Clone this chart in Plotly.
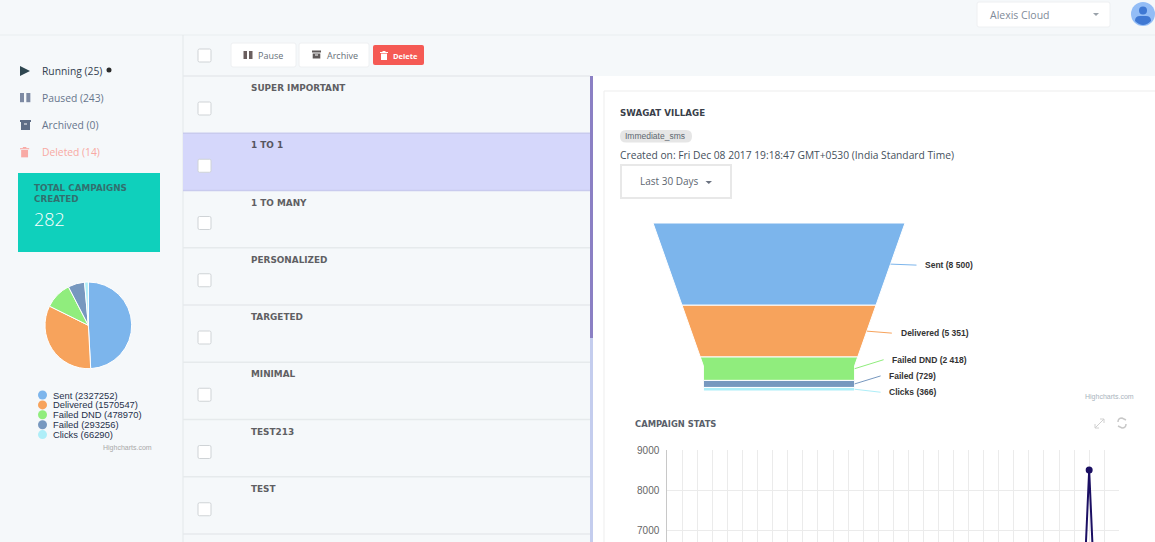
import plotly.graph_objects as go

W, H = 1155, 542

BODY = "Open Sans"
HEAD = "DejaVu Sans"
CHART = "Liberation Sans"

# data
series_names = ["Sent", "Delivered", "Failed DND", "Failed", "Clicks"]
series_colors = ["#7cb5ec", "#f7a35c", "#90ed7d", "#7798bf", "#aeeef8"]
pie_totals = [2327252, 1570547, 478970, 293256, 66290]
funnel_values = [8500, 5351, 2418, 729, 366]
daily_days = list(range(31))
daily_sent = [0, 0, 0, 0, 0, 0, 0, 0, 0, 0, 0, 0, 0, 0, 0, 0,
              0, 0, 0, 0, 0, 0, 0, 0, 0, 0, 0, 0, 8500, 0, 0]
y_ticks = [7000, 8000, 9000]
nav_items = ["Running (25)", "Paused (243)", "Archived (0)", "Deleted (14)"]
campaigns = ["SUPER IMPORTANT", "1 TO 1", "1 TO MANY", "PERSONALIZED",
             "TARGETED", "MINIMAL", "TEST213", "TEST"]

shapes = []
annotations = []


def px_x(p):
    return p / W


def px_y(p):
    return 1 - p / H


def rect(x0, y0, x1, y1, fill, line=None, lw=1):
    shapes.append(dict(type="rect", xref="x", yref="y", x0=x0, y0=y0, x1=x1, y1=y1,
                       fillcolor=fill, layer="below",
                       line=dict(color=line or fill, width=lw if line else 0)))


def circle(cx, cy, r, fill):
    shapes.append(dict(type="circle", xref="x", yref="y", x0=cx - r, y0=cy - r,
                       x1=cx + r, y1=cy + r, fillcolor=fill, layer="below",
                       line=dict(width=0)))


def path(d, fill=None, line=None, lw=1):
    shapes.append(dict(type="path", xref="x", yref="y", path=d, layer="below",
                       fillcolor=fill or "rgba(0,0,0,0)",
                       line=dict(color=line or "rgba(0,0,0,0)", width=lw)))


def rounded(x0, y0, x1, y1, r, fill, line=None, lw=1):
    d = (f"M{x0 + r},{y0} L{x1 - r},{y0} Q{x1},{y0} {x1},{y0 + r} L{x1},{y1 - r} "
         f"Q{x1},{y1} {x1 - r},{y1} L{x0 + r},{y1} Q{x0},{y1} {x0},{y1 - r} "
         f"L{x0},{y0 + r} Q{x0},{y0} {x0 + r},{y0} Z")
    path(d, fill, line, lw)


def label(x, y, text, size, color, family=BODY, weight=None):
    font = dict(size=size, color=color, family=family)
    if weight:
        font["weight"] = weight
    annotations.append(dict(xref="x", yref="y", x=x - 0.8, y=y, text=text, showarrow=False,
                            xanchor="left", yanchor="middle", borderpad=0, font=font))


def checkbox(cx, cy):
    rounded(cx - 6.5, cy - 6.5, cx + 6.5, cy + 6.5, 1.5, "#ffffff", "#cfd3d6", 1)


def pause_icon(x, y, color, s=1.0):
    rect(x, y, x + 3.5 * s, y + 8 * s, color)
    rect(x + 5.5 * s, y, x + 9 * s, y + 8 * s, color)


def archive_icon(x, y, w, color):
    rect(x, y, x + w, y + 2, color)
    rect(x + 0.7, y + 3, x + w - 0.7, y + w - 1, color)
    rect(x + w / 2 - 1.5, y + 4, x + w / 2 + 1.5, y + 5, "#ffffff")


def trash_icon(x, y, color, s=1.0):
    rect(x, y + 1 * s, x + 8 * s, y + 2 * s, color)
    rect(x + 2.5 * s, y, x + 5.5 * s, y + 1 * s, color)
    rect(x + 1 * s, y + 2.6 * s, x + 7 * s, y + 9 * s, color)


# page background and panels
rect(0, 0, W, H, "#f5f8fa")
rect(0, 34.5, W, 35.5, "#e9edf0")
rect(593, 76, W, H, "#ffffff")
rect(182.5, 35, 183.5, H, "#e4e8ea")
rect(604, 91, W + 5, H + 5, "#ffffff", "#ededed", 1)

# top bar
rounded(977, 2, 1110, 27, 2, "#ffffff", "#eef0f2", 1)
label(990, 14.5, "Alexis Cloud", 10.5, "#7f8b99")
path("M1093,13 L1099,13 L1096,16 Z", "#9aa2aa")
circle(1143, 14, 12, "#93bdf6")
circle(1143, 10.5, 4, "#3f78d3")
path("M1135,21 Q1135,16 1140,16 L1146,16 Q1151,16 1151,21 Q1147,25 1143,25 Q1139,25 1135,21 Z", "#3f78d3")

# sidebar
path("M20,66 L30,71 L20,76 Z", "#2e4650")
pause_icon(20, 93, "#7d8aa3", 1.15)
rect(20, 120, 31, 122, "#5e6d86")
rect(21, 122, 30, 130, "#5e6d86")
rect(24, 123.5, 27, 124.5, "#ffffff")
trash_icon(20, 147, "#f8aaa5", 1.15)
nav_colors = ["#33414f", "#66758c", "#66758c", "#f8a9a3"]
for i, (item, col) in enumerate(zip(nav_items, nav_colors)):
    label(41.5, 71 + 27 * i, item, 10.3, col)
circle(109, 70, 2.5, "#2b2b2b")

rect(18, 173, 160, 252, "#0fd0bc")
label(34, 188, "<b>TOTAL CAMPAIGNS</b>", 8.8, "#31706f", HEAD)
label(34, 199, "<b>CREATED</b>", 8.8, "#31706f", HEAD)
label(34, 219, "282", 18, "#ffffff", BODY, 300)

# pie legend
for i, (name, value, col) in enumerate(zip(series_names, pie_totals, series_colors)):
    y = 395 + 9.9 * i
    circle(42.5, y, 4.5, col)
    label(53, y, f"{name} ({value})", 9.4, "#26304a", CHART)
label(103, 447.5, "Highcharts.com", 7, "#a9a9a9", CHART)

# toolbar
checkbox(204.5, 55.5)
rounded(231, 43, 296, 67, 2, "#ffffff", "#eef0f2", 1)
pause_icon(243.5, 51, "#6b5f5f")
label(258, 55, "Pause", 9, "#666f78")
rounded(299, 43, 369, 67, 2, "#ffffff", "#eef0f2", 1)
archive_icon(312, 50.5, 9, "#5f5a5a")
label(327, 55, "Archive", 9, "#666f78")
rounded(373, 45, 424, 65, 2, "#f55a54")
trash_icon(380, 51, "#ffffff")
label(393, 55.5, "<b>Delete</b>", 7.5, "#ffffff")

# campaign list
ROW = 57.25
rect(183, 133.5, 590, 190.75, "#d5d7fb")
for i in range(9):
    y = 76 + ROW * i
    sep = "#c9cbee" if i in (1, 2) else "#e6eaec"
    rect(183, y - 0.75, 590, y + 0.75, sep)
for i, name in enumerate(campaigns):
    label(251, 88 + ROW * i, f"<b>{name}</b>", 8.9, "#5f5f63" if i != 1 else "#55555f", HEAD)
    checkbox(204.5, 108.5 + ROW * i)

# scrollbar
rect(590, 76, 593, 338, "#8b80c4")
rect(590, 338, 593, H, "#c4cdee")

# detail card
label(620, 113, "<b>SWAGAT VILLAGE</b>", 8.7, "#3a3f4a", HEAD)
rounded(620, 130, 692, 142.5, 6, "#e6e6e6")
label(625, 136, "Immediate_sms", 8.5, "#5d6670", CHART)
label(620, 155, "Created on: Fri Dec 08 2017 19:18:47 GMT+0530 (India Standard Time)", 10.25, "#45505c")
rect(621, 165, 731, 198, "#ffffff", "#e8e8e8", 2)
label(640, 181, "Last 30 Days", 10, "#5d6670")
path("M705.5,181 L712,181 L708.8,184 Z", "#6b7280")

label(1085, 396.5, "Highcharts.com", 7, "#a9b4bd", CHART)
label(635, 424, "<b>CAMPAIGN STATS</b>", 8.4, "#5a5f6a", HEAD)
path("M1095,428 L1104,419 M1095,424 L1095,428 L1099,428 M1100,419 L1104,419 L1104,423", None, "#d0d0d0", 1)
path("M1118,422 Q1118,418 1122,418 L1126,420 M1126,424 Q1126,428 1122,428 L1118,426", None, "#c8c8c8", 1.5)


# funnel geometry worked out from the values, in an axis of its own
total = sum(funnel_values)
neck_at = 0.85 * total
top_half, neck_half = 0.5, 0.3


def half_width(v):
    if v >= neck_at:
        return neck_half
    return top_half + (neck_half - top_half) * v / neck_at


fig = go.Figure()

start = 0
for name, value, col in zip(series_names, funnel_values, series_colors):
    end = start + value
    right = [(half_width(start), start)]
    if start < neck_at < end:
        right.append((neck_half, neck_at))
    right.append((half_width(end), end))
    left = [(-a, b) for a, b in reversed(right)]
    pts = right + left + [right[0]]
    fig.add_trace(go.Scatter(x=[p[0] for p in pts], y=[p[1] for p in pts], fill="toself",
                             fillcolor=col, mode="lines", line=dict(color="#ffffff", width=1),
                             xaxis="x2", yaxis="y2", hoverinfo="skip", showlegend=False))
    start = end

# funnel labels with leader lines, offsets in pixels from the slice edge
leader_offsets = [(26, 1), (25, 2), (29, -9), (26, -8), (26, 3)]
text_gap = [8, 8, 7, 7, 7]
start = 0
for name, value, col, off, gap in zip(series_names, funnel_values, series_colors,
                                      leader_offsets, text_gap):
    mid = start + value / 2
    start += value
    annotations.append(dict(xref="x2", yref="y2", x=half_width(mid), y=mid,
                            axref="pixel", ayref="pixel", ax=off[0], ay=off[1],
                            text="<b>%s (%s)</b>" % (name, f"{value:,}".replace(",", " ")),
                            xanchor="left", yanchor="middle", showarrow=True, arrowhead=0,
                            arrowwidth=1, arrowcolor=col, borderpad=gap, standoff=0,
                            font=dict(size=8.5, color="#333333", family=CHART)))

fig.add_trace(go.Pie(labels=series_names, values=pie_totals, sort=False, direction="clockwise",
                     rotation=0, textinfo="none", hoverinfo="label+value", showlegend=False,
                     marker=dict(colors=series_colors, line=dict(color="#ffffff", width=1)),
                     domain=dict(x=[px_x(45), px_x(131.7)], y=[px_y(368.7), px_y(282)])))

fig.add_trace(go.Scatter(x=daily_days, y=daily_sent, mode="lines+markers", xaxis="x3", yaxis="y3",
                         line=dict(color="#1b0f63", width=2), marker=dict(color="#1b0f63", size=7),
                         showlegend=False))

fig.update_layout(
    width=W, height=H, autosize=False,
    margin=dict(l=0, r=0, t=0, b=0, pad=0, autoexpand=False),
    paper_bgcolor="#f5f8fa", plot_bgcolor="rgba(0,0,0,0)",
    showlegend=False,
    shapes=shapes, annotations=annotations,
    xaxis=dict(range=[0, W], domain=[0, 1], visible=False, fixedrange=True),
    yaxis=dict(range=[H, 0], domain=[0, 1], visible=False, fixedrange=True),
    xaxis2=dict(range=[-0.5, 0.5], domain=[px_x(653), px_x(905)], visible=False,
                anchor="y2", fixedrange=True),
    yaxis2=dict(range=[total, 0], domain=[px_y(391), px_y(223)], visible=False,
                anchor="x2", fixedrange=True),
    xaxis3=dict(range=[0, 30], domain=[px_x(667.3), px_x(1119.3)], anchor="y3", dtick=1, tick0=0,
                showgrid=True, gridcolor="#ebebeb", gridwidth=1, showticklabels=False,
                zeroline=False, ticks="", fixedrange=True),
    yaxis3=dict(range=[6700, 9000], domain=[0, px_y(450)], anchor="x3", tickvals=y_ticks,
                showgrid=True, gridcolor="#ebebeb", gridwidth=1, zeroline=False,
                showline=True, linecolor="#c8c8c8", linewidth=1, ticks="outside", ticklen=5,
                tickcolor="rgba(0,0,0,0)", fixedrange=True,
                tickfont=dict(family=CHART, size=10, color="#666666")),
)

fig.write_html("out.html", config=dict(displayModeBar=False),
               post_script="document.body.style.margin='0';document.body.style.overflow='hidden';")
